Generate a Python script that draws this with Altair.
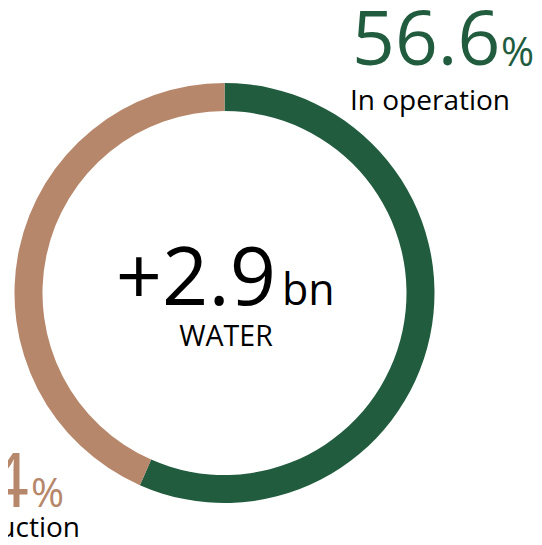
import altair as alt
import pandas as pd

# Data
labels = ["In operation", "Under construction"]
values = [56.6, 43.4]
colors = ["#225c3f", "#b7876b"]
total_value = "+2.9"
total_unit = "bn"
category = "WATER"

FONT = "Open Sans"

df = pd.DataFrame({"label": labels, "value": values, "order": list(range(len(labels)))})

CX, CY = 216.5, 285

donut = alt.Chart(df).mark_arc(outerRadius=210, innerRadius=182, stroke=None).encode(
    theta=alt.Theta("value:Q", stack=True),
    color=alt.Color("label:N", scale=alt.Scale(domain=labels, range=colors), legend=None),
    order=alt.Order("order:Q"),
    x=alt.value(CX),
    y=alt.value(CY),
)

def txt(text, x, y, size, color="#000000", align="left"):
    return alt.Chart(pd.DataFrame({"t": [text]})).mark_text(
        font=FONT, fontSize=size, color=color, align=align, baseline="alphabetic"
    ).encode(text="t:N", x=alt.value(x), y=alt.value(y))

layers = [
    donut,
    txt(f"{values[0]}", 344, 57, 75, colors[0], "left"),
    txt("%", 493, 58, 40, colors[0], "left"),
    txt(labels[0], 342, 102, 28, "#000000", "left"),
    txt(f"{values[1]}", 21, 499, 75, colors[1], "right"),
    txt("%", 23, 499, 40, colors[1], "left"),
    txt(labels[1], 72, 529, 28, "#000000", "right"),
    txt(total_value, 268, 297, 81, "#000000", "right"),
    txt(total_unit, 274, 297, 43, "#000000", "left"),
    txt(category, 218, 338, 28.5, "#000000", "center"),
]

chart = alt.layer(*layers).properties(
    width=526, height=529,
    autosize=alt.AutoSizeParams(type="none"),
    padding=0,
).configure_view(stroke=None)

chart.save("out.html", embed_options={"renderer": "svg", "actions": False})
